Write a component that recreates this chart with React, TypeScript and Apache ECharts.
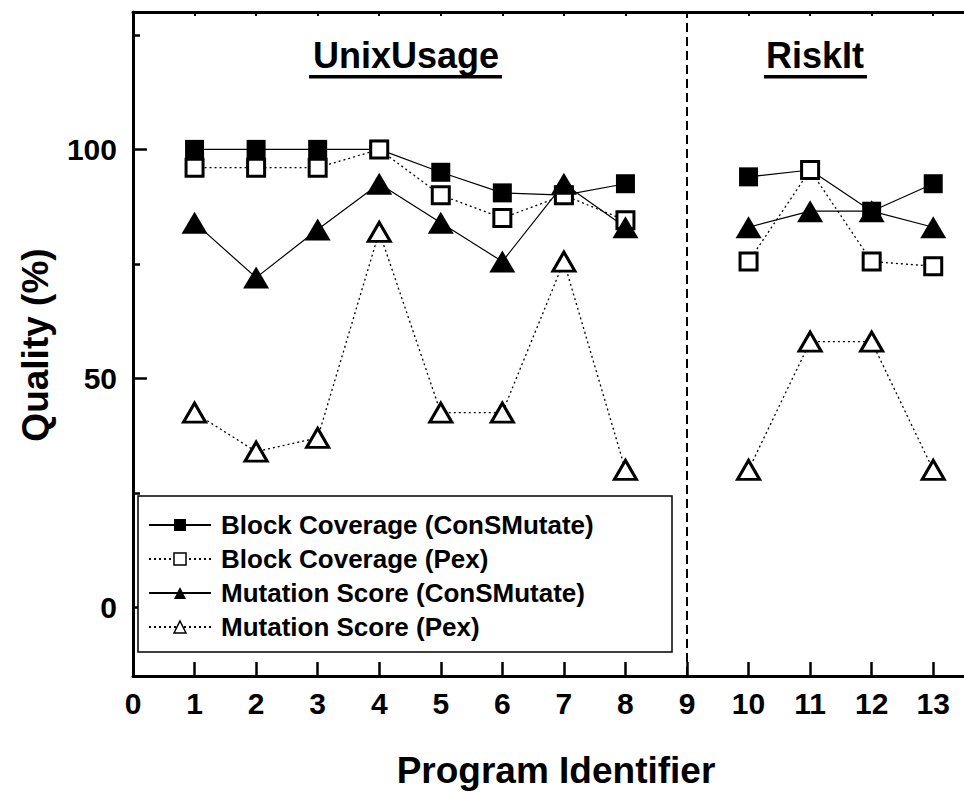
import React, { useEffect, useRef } from "react";
import * as echarts from "echarts";

// ---- Data ----
const programIds = [1, 2, 3, 4, 5, 6, 7, 8, 10, 11, 12, 13];
const blockCoverageConSMutate = [100, 100, 100, 100, 95, 90.5, 90, 92.5, 94, 95.5, 86.5, 92.5];
const blockCoveragePex = [96, 96, 96, 100, 90, 85, 90, 84.5, 75.5, 95.5, 75.5, 74.5];
const mutationScoreConSMutate = [84, 72, 82.5, 92.5, 84, 75.5, 92.5, 83, 83, 86.5, 86.5, 83];
const mutationScorePex = [42.5, 34, 37, 82, 42.5, 42.5, 75.5, 30, 30, 58, 58, 30];

const seriesNames = [
  "Block Coverage (ConSMutate)",
  "Block Coverage (Pex)",
  "Mutation Score (ConSMutate)",
  "Mutation Score (Pex)",
];

const xTickValues = [0, 1, 2, 3, 4, 5, 6, 7, 8, 9, 10, 11, 12, 13];
const yMajorTicks = [0, 50, 100];
const yMinorTicks = [25, 75, 125];
const groupDivider = 9;
const groupTitles = ["UnixUsage", "RiskIt"];
const groupTitleX = [406, 815];

const FONT = "'Liberation Sans', Arial, Helvetica, sans-serif";

function toSeriesData(values: number[]) {
  const out: any[] = [];
  programIds.forEach((id, i) => {
    if (i > 0 && id - programIds[i - 1] > 1) {
      out.push([(id + programIds[i - 1]) / 2, "-"]);
    }
    out.push([id, values[i]]);
  });
  return out;
}

export default function App() {
  const ref = useRef<HTMLDivElement>(null);

  useEffect(() => {
    if (!ref.current) return;
    const chart = echarts.init(ref.current, undefined, { renderer: "svg" });

    const filled = (name: string, values: number[], symbol: string, size: any) => ({
      name,
      type: "line",
      data: toSeriesData(values),
      symbol,
      symbolSize: size,
      connectNulls: false,
      itemStyle: { color: "#000", borderWidth: 0 },
      lineStyle: { color: "#000", width: 1.2, type: "solid" },
      emphasis: { disabled: true },
    });
    const hollow = (name: string, values: number[], symbol: string, size: any) => ({
      name,
      type: "line",
      data: toSeriesData(values),
      symbol,
      symbolSize: size,
      connectNulls: false,
      itemStyle: { color: "#fff", borderColor: "#000", borderWidth: 3 },
      lineStyle: { color: "#000", width: 1.3, type: [2, 3] },
      emphasis: { disabled: true },
    });

    const s0: any = filled(seriesNames[0], blockCoverageConSMutate, "rect", 19);
    s0.markLine = {
      silent: true,
      symbol: "none",
      label: { show: false },
      lineStyle: { color: "#000", type: [9, 5], width: 2 },
      data: [{ xAxis: groupDivider }],
    };

    const option: any = {
      animation: false,
      backgroundColor: "#fff",
      grid: { left: 133, right: -6, top: 12, bottom: 118 },
      xAxis: [
        {
          type: "value",
          position: "bottom",
          min: 0,
          max: 13.5,
          axisLine: { onZero: false, lineStyle: { color: "#000", width: 3 } },
          axisTick: { inside: true, length: 14, lineStyle: { color: "#000", width: 2.5 }, customValues: xTickValues },
          axisLabel: {
            customValues: xTickValues,
            fontSize: 30,
            fontWeight: "bold",
            fontFamily: FONT,
            color: "#000",
            margin: 12,
          },
          splitLine: { show: false },
        },
        {
          type: "value",
          position: "top",
          min: 0,
          max: 13.5,
          axisLine: { onZero: false, lineStyle: { color: "#000", width: 3 } },
          axisTick: { inside: true, length: 4, lineStyle: { color: "#000", width: 2 }, customValues: xTickValues },
          axisLabel: { show: false },
          splitLine: { show: false },
        },
      ],
      yAxis: [
        {
          type: "value",
          position: "left",
          min: -15,
          max: 130,
          axisLine: { show: true, onZero: false, lineStyle: { color: "#000", width: 3 } },
          axisTick: { show: true, inside: true, length: 14, lineStyle: { color: "#000", width: 2.5 }, customValues: yMajorTicks },
          axisLabel: {
            customValues: yMajorTicks,
            fontSize: 30,
            fontWeight: "bold",
            fontFamily: FONT,
            color: "#000",
            margin: 16,
          },
          splitLine: { show: false },
        },
        {
          type: "value",
          position: "left",
          min: -15,
          max: 130,
          axisLine: { show: false, onZero: false },
          axisTick: { show: true, inside: true, length: 7, lineStyle: { color: "#000", width: 2.5 }, customValues: yMinorTicks },
          axisLabel: { show: false },
          splitLine: { show: false },
        },
      ],
      legend: {
        orient: "vertical",
        left: 148,
        top: 512,
        padding: 0,
        z: 10,
        itemWidth: 62,
        itemHeight: 15,
        itemGap: 8,
        selectedMode: false,
        textStyle: {
          fontSize: 26,
          lineHeight: 24,
          fontWeight: "bold",
          fontFamily: FONT,
          color: "#000",
          padding: [0, 0, 0, 5],
        },
        data: [
          { name: seriesNames[0], itemStyle: { color: "#000", borderWidth: 0 } },
          { name: seriesNames[1], itemStyle: { color: "#fff", borderColor: "#000", borderWidth: 1.5 } },
          { name: seriesNames[2], itemStyle: { color: "#000", borderWidth: 0 } },
          { name: seriesNames[3], itemStyle: { color: "#fff", borderColor: "#000", borderWidth: 1.5 } },
        ],
      },
      graphic: [
        {
          type: "rect",
          z: 1,
          shape: { x: 138, y: 496, width: 534, height: 156 },
          style: { fill: "#fff", stroke: "#000", lineWidth: 1.5 },
        },
        ...groupTitles.map((t, i) => ({
          type: "text",
          x: groupTitleX[i],
          y: 55,
          style: {
            text: t,
            fill: "#000",
            fontSize: 36,
            fontWeight: "bold",
            fontFamily: FONT,
            align: "center",
            verticalAlign: "middle",
          },
        })),
        { type: "rect", shape: { x: 309, y: 75, width: 193, height: 3.5 }, style: { fill: "#000" } },
        { type: "rect", shape: { x: 764, y: 75, width: 103, height: 3.5 }, style: { fill: "#000" } },
        {
          type: "text",
          x: 35,
          y: 345,
          rotation: Math.PI / 2,
          style: {
            text: "Quality (%)",
            fill: "#000",
            fontSize: 37,
            fontWeight: "bold",
            fontFamily: FONT,
            align: "center",
            verticalAlign: "middle",
          },
        },
        {
          type: "text",
          x: 556,
          y: 770,
          style: {
            text: "Program Identifier",
            fill: "#000",
            fontSize: 37,
            fontWeight: "bold",
            fontFamily: FONT,
            align: "center",
            verticalAlign: "middle",
          },
        },
      ],
      series: [
        s0,
        hollow(seriesNames[1], blockCoveragePex, "rect", 17),
        filled(seriesNames[2], mutationScoreConSMutate, "triangle", [26, 22]),
        hollow(seriesNames[3], mutationScorePex, "triangle", [22, 19]),
      ],
    };

    chart.setOption(option);
    return () => chart.dispose();
  }, []);

  return (
    <div
      ref={ref}
      style={{ position: "absolute", left: 0, top: 0, width: 964, height: 794 }}
    />
  );
}
